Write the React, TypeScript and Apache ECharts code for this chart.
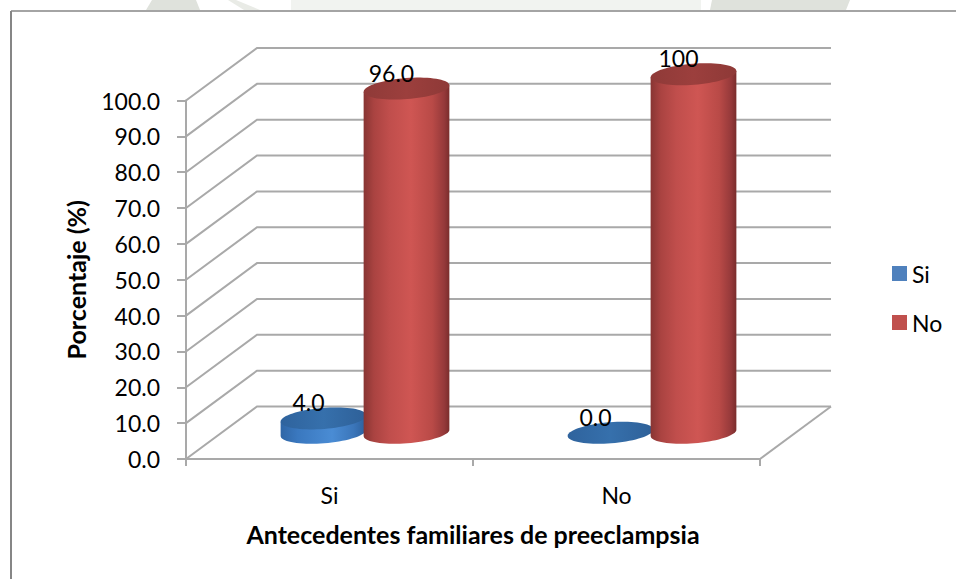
import React, { useEffect, useRef } from "react";
import * as echarts from "echarts";

const categories = ["Si", "No"];
const seriesNames = ["Si", "No"];
const siValues = [4.0, 0.0];
const noValues = [96.0, 100];
const siLabels = ["4.0", "0.0"];
const noLabels = ["96.0", "100"];
const yTicks = [0, 10, 20, 30, 40, 50, 60, 70, 80, 90, 100];

const FONT = "Lato";
const DEPTH_X = 71;
const DEPTH_Y = 52.5;
const RX = 43;
const RY = 10.5;
const TILT = (-4.5 * Math.PI) / 180;
const GRID_COLOR = "#a9a9a9";

function ellipsePoint(cx: number, cy: number, theta: number) {
  const ex = RX * Math.cos(theta);
  const ey = RY * Math.sin(theta);
  return [
    cx + ex * Math.cos(TILT) - ey * Math.sin(TILT),
    cy + ex * Math.sin(TILT) + ey * Math.cos(TILT),
  ];
}

function hGrad(stops: [number, string][]) {
  return new echarts.graphic.LinearGradient(
    0, 0, 1, 0,
    stops.map(([offset, color]) => ({ offset, color }))
  );
}

const palette: Record<string, { body: any; top: any }> = {
  Si: {
    body: hGrad([[0, "#2f66a6"], [0.2, "#3a78bf"], [0.6, "#4a8cd4"], [0.85, "#3b76ba"], [1, "#2c5f9c"]]),
    top: hGrad([[0, "#2f639d"], [0.5, "#3670ac"], [1, "#2e6098"]]),
  },
  No: {
    body: hGrad([[0, "#883533"], [0.12, "#aa4341"], [0.3, "#c04e4c"], [0.55, "#cf5653"], [0.8, "#b94a47"], [0.94, "#95393a"], [1, "#7a2d2c"]]),
    top: hGrad([[0, "#8f3a38"], [0.5, "#9c3f3d"], [1, "#8e3937"]]),
  },
};

function cylinderRenderer(name: string, labels: string[], shift: number) {
  return (params: any, api: any) => {
    const idx = api.value(0);
    const v = api.value(1);
    const [fx, fTop] = api.coord([idx, v]);
    const [, fBase] = api.coord([idx, 0]);
    const cx = fx + shift + DEPTH_X / 2;
    const topY = fTop - DEPTH_Y / 2;
    const baseY = fBase - DEPTH_Y / 2;
    const N = 72;
    const top: number[][] = [];
    const body: number[][] = [];
    for (let i = 0; i < N; i++) top.push(ellipsePoint(cx, topY, (i / N) * 2 * Math.PI));
    for (let i = 0; i <= N / 2; i++) body.push(ellipsePoint(cx, baseY, (i / (N / 2)) * Math.PI));
    body.push(ellipsePoint(cx, topY, Math.PI));
    body.push(ellipsePoint(cx, topY, 0));
    const colors = palette[name];
    const children: any[] = [];
    if (v > 0) {
      children.push({ type: "polygon", shape: { points: body }, style: { fill: colors.body } });
    }
    children.push({ type: "polygon", shape: { points: top }, style: { fill: colors.top } });
    children.push({
      type: "text",
      style: {
        text: labels[params.dataIndex],
        x: cx - 15,
        y: topY - 16,
        align: "center",
        verticalAlign: "middle",
        fontSize: 23,
        fontFamily: FONT,
        fill: "#000",
      },
    });
    return { type: "group", children };
  };
}

function wallRenderer(params: any, api: any) {
  const v = api.value(0);
  const [, y] = api.coord([0, v]);
  const { x, width } = params.coordSys;
  const style = { stroke: GRID_COLOR, lineWidth: 2, fill: "none" };
  const children: any[] = [
    {
      type: "polyline",
      shape: { points: [[x, y], [x + DEPTH_X, y - DEPTH_Y], [x + width + DEPTH_X, y - DEPTH_Y]] },
      style,
    },
  ];
  if (v === 0) {
    children.push({
      type: "line",
      shape: { x1: x + width, y1: y, x2: x + width + DEPTH_X, y2: y - DEPTH_Y },
      style,
    });
  }
  return { type: "group", children };
}

const BORDER = "#868686";
const WM = "#dfe2dc";

export default function App() {
  const ref = useRef<HTMLDivElement>(null);
  useEffect(() => {
    const chart = echarts.init(ref.current!, undefined, { renderer: "svg" });
    chart.setOption({
      animation: false,
      backgroundColor: "#ffffff",
      textStyle: { fontFamily: FONT },
      grid: { left: 186, top: 100.5, width: 574, height: 358.5 },
      graphic: [
        { type: "rect", silent: true, z: -1, shape: { x: 291, y: 0, width: 410, height: 10 }, style: { fill: "#f1f3f0" } },
        { type: "polygon", silent: true, z: -1, shape: { points: [[146, 10], [152, 0], [196, 0], [200, 10]] }, style: { fill: WM } },
        { type: "polygon", silent: true, z: -1, shape: { points: [[228, 0], [236, 0], [260, 10], [244, 10]] }, style: { fill: "#e9ebe6" } },
        { type: "polygon", silent: true, z: -1, shape: { points: [[710, 10], [712, 0], [850, 0], [846, 10]] }, style: { fill: WM } },
        { type: "line", silent: true, z: 0, shape: { x1: 11, y1: 11, x2: 956, y2: 11 }, style: { stroke: BORDER, lineWidth: 1.5 } },
        { type: "line", silent: true, z: 0, shape: { x1: 11, y1: 11, x2: 11, y2: 579 }, style: { stroke: BORDER, lineWidth: 2 } },
      ],
      legend: {
        orient: "vertical",
        left: 892,
        top: 262,
        padding: 0,
        itemWidth: 15,
        itemHeight: 15,
        itemGap: 26,
        icon: "rect",
        data: [
          { name: seriesNames[0], itemStyle: { color: "#4f81bd" } },
          { name: seriesNames[1], itemStyle: { color: "#c0504d" } },
        ],
        textStyle: { fontSize: 23, fontFamily: FONT, color: "#000" },
      },
      xAxis: {
        type: "category",
        data: categories,
        name: "Antecedentes familiares de preeclampsia",
        nameLocation: "middle",
        nameGap: 62,
        nameTextStyle: { fontSize: 25, fontWeight: "bold", color: "#000", fontFamily: FONT },
        axisLine: { lineStyle: { color: GRID_COLOR, width: 2 } },
        axisTick: { show: true, length: 7, lineStyle: { color: GRID_COLOR, width: 2 } },
        axisLabel: { fontSize: 23, color: "#000", margin: 24, fontFamily: FONT },
      },
      yAxis: {
        type: "value",
        min: 0,
        max: 100,
        interval: 10,
        name: "Porcentaje (%)",
        nameLocation: "middle",
        nameGap: 98,
        nameTextStyle: { fontSize: 25, fontWeight: "bold", color: "#000", fontFamily: FONT },
        axisLine: { show: true, lineStyle: { color: GRID_COLOR, width: 2 } },
        axisTick: { show: true, length: 9, lineStyle: { color: GRID_COLOR, width: 2 } },
        axisLabel: { fontSize: 23, color: "#000", margin: 26, fontFamily: FONT, formatter: (v: number) => v.toFixed(1) },
        splitLine: { show: false },
      },
      series: [
        {
          name: "walls",
          type: "custom",
          silent: true,
          data: yTicks.map((t) => [t]),
          encode: { y: 0 },
          renderItem: wallRenderer,
        },
        {
          name: seriesNames[0],
          type: "custom",
          itemStyle: { color: "#4f81bd" },
          data: siValues.map((v, i) => [i, v]),
          encode: { x: 0, y: 1 },
          renderItem: cylinderRenderer("Si", siLabels, -41.5),
        },
        {
          name: seriesNames[1],
          type: "custom",
          itemStyle: { color: "#c0504d" },
          data: noValues.map((v, i) => [i, v]),
          encode: { x: 0, y: 1 },
          renderItem: cylinderRenderer("No", noLabels, 41.5),
        },
      ],
    });
    return () => chart.dispose();
  }, []);
  return <div ref={ref} style={{ position: "absolute", left: 0, top: 0, width: 956, height: 579 }} />;
}
